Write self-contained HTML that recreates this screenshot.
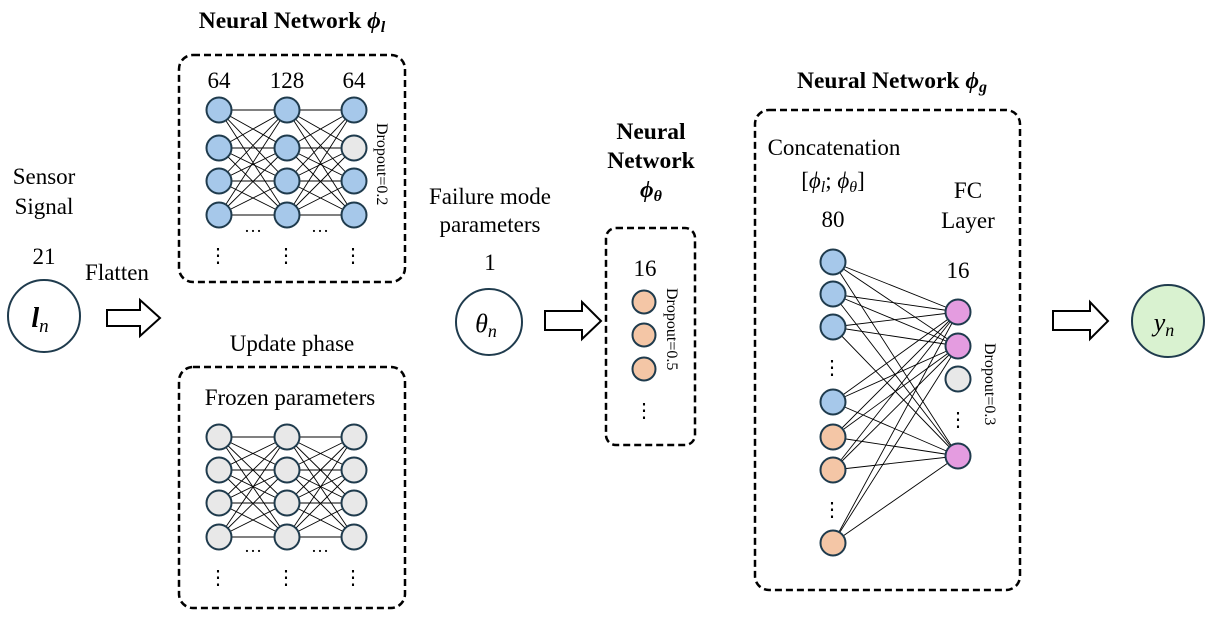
<!DOCTYPE html>
<html><head><meta charset="utf-8"><style>
body{margin:0;background:#fff}
svg text{font-family:"Liberation Serif",serif;fill:#000}
</style></head><body>
<svg width="1217" height="621" viewBox="0 0 1217 621" xmlns="http://www.w3.org/2000/svg">
<g fill="none" stroke="#000" stroke-width="2.5" stroke-dasharray="7,4">
<rect x="179" y="55" width="226" height="227" rx="14"/>
<rect x="179" y="367" width="226" height="241" rx="14"/>
<rect x="606" y="228" width="89" height="217" rx="10"/>
<rect x="755" y="110" width="265" height="480" rx="14"/>
</g>
<g font-size="23" text-anchor="middle">
<text x="292" y="28" font-weight="bold" font-size="23.5">Neural Network <tspan font-style="italic">ϕ<tspan font-size="16" dy="4">l</tspan></tspan></text>
<text x="219" y="88">64</text><text x="287" y="88">128</text><text x="354" y="88">64</text>
<text x="292" y="351">Update phase</text>
<text x="290" y="405">Frozen parameters</text>
<text x="44" y="184">Sensor</text><text x="44" y="214">Signal</text>
<text x="44" y="264">21</text>
<text x="117" y="280">Flatten</text>
<text x="490" y="204">Failure mode</text><text x="490" y="232">parameters</text>
<text x="490" y="270">1</text>
<text x="651" y="139" font-weight="bold" font-size="23.5">Neural</text>
<text x="651" y="168" font-weight="bold" font-size="23.5">Network</text>
<text x="651" y="197" font-weight="bold" font-style="italic" font-size="23.5">ϕ<tspan font-size="16" dy="4">θ</tspan></text>
<text x="645" y="276">16</text>
<text x="892" y="88" font-weight="bold" font-size="23.5">Neural Network <tspan font-style="italic">ϕ<tspan font-size="16" dy="4">g</tspan></tspan></text>
<text x="834" y="155">Concatenation</text>
<text x="833" y="188">[<tspan font-style="italic">ϕ</tspan><tspan font-size="16" dy="4" font-style="italic">l</tspan><tspan dy="-4">; </tspan><tspan font-style="italic">ϕ</tspan><tspan font-size="16" dy="4" font-style="italic">θ</tspan><tspan dy="-4">]</tspan></text>
<text x="833" y="227">80</text>
<text x="968" y="198">FC</text><text x="968" y="228">Layer</text>
<text x="958" y="278">16</text>
</g>
<g font-size="16">
<text transform="translate(377,123) rotate(90)">Dropout=0.2</text>
<text transform="translate(667,288) rotate(90)">Dropout=0.5</text>
<text transform="translate(985,343) rotate(90)">Dropout=0.3</text>
</g>
<g fill="#fff" stroke="#000" stroke-width="2">
<path d="M107,310 H140 V300 L160,318 L140,336 V326 H107 Z"/>
<path d="M545,311 H582 V302 L601,321 L582,339 V330 H545 Z"/>
<path d="M1053,311 H1090 V302 L1108,321 L1090,339 V330 H1053 Z"/>
</g>
<g stroke="#1f3b4d" stroke-width="2">
<circle cx="44" cy="316" r="36" fill="#fff"/>
<circle cx="489" cy="322" r="33" fill="#fff"/>
<circle cx="1168" cy="321" r="36" fill="#d9f2d0"/>
</g>
<g font-size="28" font-style="italic" text-anchor="middle">
<text x="40" y="327" font-weight="bold">l<tspan font-size="19" dy="5" font-weight="normal">n</tspan></text>
<text x="486" y="332" font-size="26">θ<tspan font-size="18" dy="5">n</tspan></text>
<text x="1164" y="331" font-size="26">y<tspan font-size="18" dy="5">n</tspan></text>
</g>
<g id="gen"></g>
<script>
var NS="http://www.w3.org/2000/svg",g=document.getElementById("gen");
function el(t,a){var e=document.createElementNS(NS,t);for(var k in a)e.setAttribute(k,a[k]);g.appendChild(e);return e;}
function ln(x1,y1,x2,y2){el("line",{x1:x1,y1:y1,x2:x2,y2:y2,stroke:"#000","stroke-width":0.9});}
function c(x,y,r,f){el("circle",{cx:x,cy:y,r:r,fill:f,stroke:"#1f3b4d","stroke-width":2});}
function txt(x,y,s,fs){var t=el("text",{x:x,y:y,"text-anchor":"middle","font-size":fs||18});t.textContent=s;}
function net(cols,rows,fills,dy1,dy2){
 for(var i=0;i<2;i++)for(var a=0;a<4;a++)for(var b=0;b<4;b++)ln(cols[i],rows[a],cols[i+1],rows[b]);
 for(var i=0;i<3;i++)for(var a=0;a<4;a++)c(cols[i],rows[a],12.5,fills[i][a]);
 txt(253,dy1,"…",18);txt(320,dy1,"…",18);
 for(var i=0;i<3;i++)txt(cols[i]-1,dy2,"⋮",20);
}
var B="#a6c8ea",G="#e8e8e8",O="#f4c6a6",P="#e49ce0";
net([219,287,354],[110,148,181,215],[[B,B,B,B],[B,B,B,B],[B,G,B,B]],232,262);
net([219,287,354],[437,470,503,537],[[G,G,G,G],[G,G,G,G],[G,G,G,G]],552,584);
c(644,302,11.5,O);c(644,335,11.5,O);c(644,369,11.5,O);txt(644,417,"⋮",20);
var L=[[262,B],[294,B],[327,B],[402,B],[437,O],[470,O],[543,O]],R=[312,346,456];
L.forEach(function(p){R.forEach(function(r){ln(833,p[0],958,r);});});
L.forEach(function(p){c(833,p[0],12.5,p[1]);});
txt(832,374,"⋮",20);txt(832,516,"⋮",20);
c(958,312,12.5,P);c(958,346,12.5,P);c(958,379,12.5,G);c(958,456,12.5,P);txt(958,426,"⋮",20);
</script>
</svg>
</body></html>
